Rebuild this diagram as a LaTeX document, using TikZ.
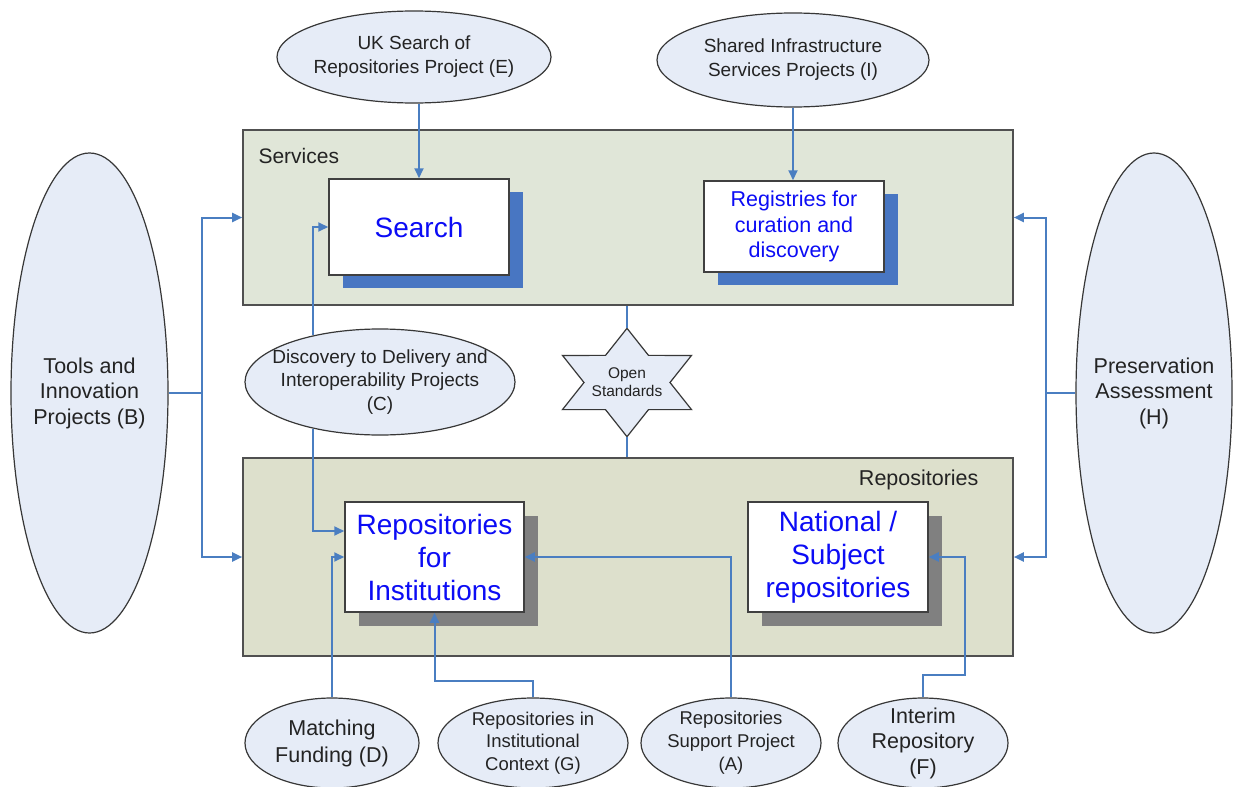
\documentclass[tikz,border=0pt]{standalone}
\usepackage{fontspec}
\setmainfont{Liberation Sans}
\usetikzlibrary{arrows.meta,shapes.geometric,shadows,calc}
\definecolor{svcfill}{RGB}{224,230,216}
\definecolor{repfill}{RGB}{221,224,204}
\definecolor{ellfill}{RGB}{230,236,247}
\definecolor{linkc}{RGB}{74,126,193}
\definecolor{shblue}{RGB}{72,118,194}
\definecolor{shgray}{RGB}{128,128,128}
\definecolor{txtblue}{RGB}{12,12,245}
\definecolor{boxline}{RGB}{80,80,80}
\definecolor{ellline}{RGB}{55,55,55}
\definecolor{ptxt}{RGB}{35,35,35}
\newcommand{\fs}[2]{\fontsize{#1}{#2}\selectfont}
\begin{document}
\begin{tikzpicture}[x=1pt,y=-1pt,
  area/.style={rectangle, draw=boxline, line width=1.6pt, inner sep=0pt},
  card/.style={rectangle, draw=boxline!80!black, fill=white, line width=1.5pt, inner sep=0pt, align=center, text=txtblue},
  proj/.style={ellipse, draw=ellline, fill=ellfill, line width=1.2pt, inner sep=0pt},
  ptext/.style={align=center, text=ptxt, inner sep=0pt},
  wire/.style={draw=linkc, line width=2pt},
  conn/.style={wire, -{Triangle[length=10pt,width=9pt]}},
  bluesh/.style={general shadow={fill=shblue, shadow xshift=14pt, shadow yshift=-13pt}},
  graysh/.style={general shadow={fill=shgray, shadow xshift=14pt, shadow yshift=-14pt}}
]
\useasboundingbox[fill=white] (0,0) rectangle (1237,787);

% layer boxes
\node[area, fill=svcfill, minimum width=770pt, minimum height=175pt] (svc) at (628,217.5) {};
\node[area, fill=repfill, minimum width=770pt, minimum height=198pt] (rep) at (628,557) {};
\node[anchor=west, text=ptxt, font=\fs{21}{25}] (svclab) at (255,156) {Services};
\node[anchor=east, text=ptxt, font=\fs{21.5}{25}] (replab) at (982,480) {Repositories};

% cards
\node[card, bluesh, minimum width=180pt, minimum height=96pt, font=\fs{28}{33}] (srch) at (419,227) {Search};
\node[card, bluesh, minimum width=180pt, minimum height=91pt, font=\fs{21.5}{25.5}] (reg) at (794,226.5) {Registries for\\curation and\\discovery};
\node[card, graysh, minimum width=179pt, minimum height=110pt, font=\fs{28}{33}] (rfi) at (434.5,557) {Repositories\\for\\Institutions};
\node[card, graysh, minimum width=180pt, minimum height=110pt, font=\fs{28}{33}] (nat) at (838,557) {National /\\Subject\\repositories};

% project ellipses
\node[proj, minimum width=274pt, minimum height=92pt, label={[ptext, font=\fs{19}{24}]center:UK Search of\\Repositories Project (E)}] (E) at (414,57) {};
\node[proj, minimum width=272pt, minimum height=94pt, label={[ptext, font=\fs{19}{24}]center:Shared Infrastructure\\Services Projects (I)}] (I) at (793,60) {};
\node[proj, minimum width=157pt, minimum height=480pt, label={[ptext, font=\fs{21.5}{25.5}]center:Tools and\\Innovation\\Projects (B)}] (B) at (89.5,393) {};
\node[proj, minimum width=156pt, minimum height=480pt, label={[ptext, font=\fs{21.5}{25.5}]center:Preservation\\Assessment\\(H)}] (H) at (1154,393) {};
\node[proj, minimum width=270pt, minimum height=106pt, label={[ptext, font=\fs{19}{23.5}]center:Discovery to Delivery and\\Interoperability Projects\\(C)}] (C) at (380,382) {};
\node[proj, minimum width=174pt, minimum height=90pt, label={[ptext, font=\fs{21.5}{27}]center:Matching\\Funding (D)}] (D) at (332,743) {};
\node[proj, minimum width=190pt, minimum height=90pt, label={[ptext, font=\fs{18.5}{22.5}]center:Repositories in\\Institutional\\Context (G)}] (G) at (533,743) {};
\node[proj, minimum width=180pt, minimum height=90pt, label={[ptext, font=\fs{18.5}{23}]center:Repositories\\Support Project\\(A)}] (A) at (731,743) {};
\node[proj, minimum width=170pt, minimum height=90pt, label={[ptext, font=\fs{21.5}{25.5}]center:Interim\\Repository\\(F)}] (F) at (923,743) {};

% open standards star
\coordinate (osc) at (627,382.5);
\coordinate (ostop) at ([shift={(270:74.5 and 54.2)}]osc);
\coordinate (osbot) at ([shift={(90:74.5 and 54.2)}]osc);
\draw[draw=ellline, fill=ellfill, line width=1.2pt]
  ([shift={(90:74.5 and 54.2)}]osc) -- ([shift={(60:43 and 31.3)}]osc) --
  ([shift={(30:74.5 and 54.2)}]osc) -- ([shift={(0:43 and 31.3)}]osc) --
  ([shift={(-30:74.5 and 54.2)}]osc) -- ([shift={(-60:43 and 31.3)}]osc) --
  ([shift={(-90:74.5 and 54.2)}]osc) -- ([shift={(-120:43 and 31.3)}]osc) --
  ([shift={(-150:74.5 and 54.2)}]osc) -- ([shift={(180:43 and 31.3)}]osc) --
  ([shift={(150:74.5 and 54.2)}]osc) -- ([shift={(120:43 and 31.3)}]osc) -- cycle;
\node[ptext, font=\fs{15.5}{18}] (os) at (osc) {Open\\Standards};
\draw[wire] (svc.south -| ostop) -- (ostop);
\draw[wire] (osbot) -- (rep.north -| osbot);

% connectors
\draw[conn] (E.south -| srch.north) -- (srch.north);
\draw[conn] (I.south) -- (I.south |- reg.north);

\draw[wire] (B.east) -- ++(33,0) coordinate (bj);
\draw[conn] (bj) |- (svc.west);
\draw[conn] (bj) |- (rep.west);

\draw[wire] (H.west) -- ++(-29,0) coordinate (hj);
\draw[conn] (hj) |- (svc.east);
\draw[conn] (hj) |- (rep.east);

\draw[conn] (C.145) |- (srch.west);
\draw[conn] (C.215) |- ([yshift=26pt]rfi.west);
\draw[conn] (D.north) |- (rfi.west);
\draw[conn] (G.north) -- ++(0,-16) -| (rfi.south);
\draw[conn] (A.north) |- (rfi.east);
\draw[conn] (F.north) -- ++(0,-22) -| ([xshift=36pt]nat.east) -- (nat.east);
\end{tikzpicture}
\end{document}
